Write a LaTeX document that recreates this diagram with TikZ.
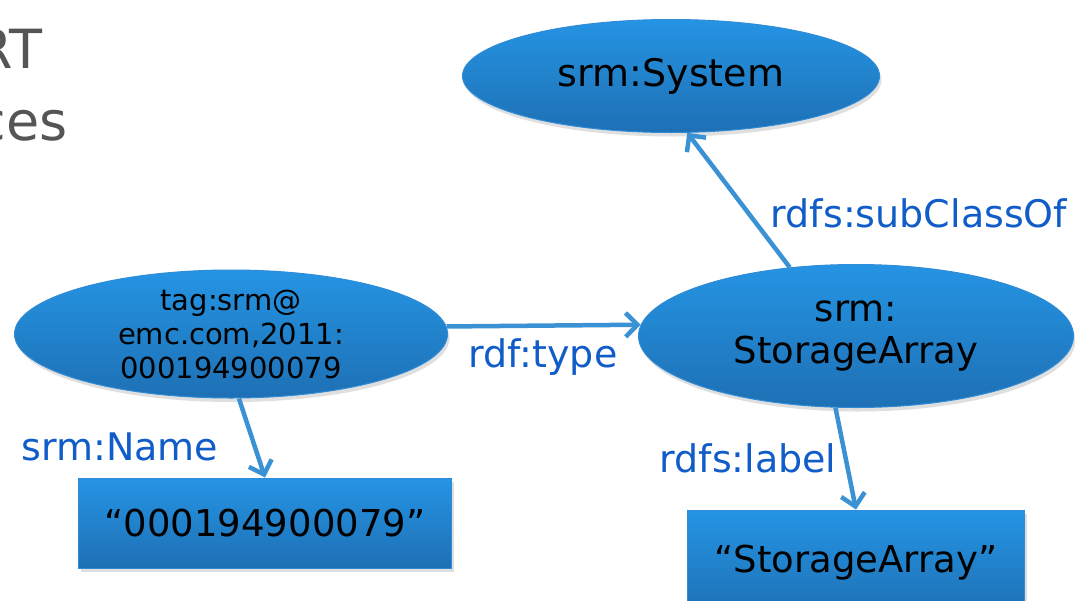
\documentclass[tikz,border=0pt]{standalone}
\usepackage{fontspec}
\setmainfont{DejaVu Sans}
\usetikzlibrary{shapes.geometric,arrows.meta,shadows}
\definecolor{ntop}{RGB}{37,148,228}
\definecolor{nbot}{RGB}{30,112,180}
\definecolor{nedge}{RGB}{48,140,215}
\definecolor{arrc}{RGB}{58,146,212}
\definecolor{lblc}{RGB}{16,92,200}
\definecolor{greyt}{RGB}{85,85,85}
\begin{document}
\begin{tikzpicture}[x=1pt,y=-1pt,
  nodefill/.style={top color=ntop, bottom color=nbot, draw=nedge, line width=1pt,
    drop shadow={opacity=0.25,shadow xshift=2pt,shadow yshift=-4pt}},
  ell/.style={nodefill, ellipse, inner sep=0pt, align=center},
  lit/.style={nodefill, rectangle, inner sep=0pt, align=center},
  arr/.style={draw=arrc, line width=4.5pt, -{Straight Barb[length=12pt,width=24pt]}},
  lbl/.style={text=lblc, font=\fontsize{38}{42}\selectfont}
]
\useasboundingbox (0,0) rectangle (1075,600);
\fill[white] (0,0) rectangle (1075,600);

\node[anchor=base east, text=greyt, font=\fontsize{54}{60}\selectfont] (t1) at (46,68) {RT};
\node[anchor=base east, text=greyt, font=\fontsize{54}{60}\selectfont] (t2) at (71,140) {ces};

\node[ell, minimum width=417pt, minimum height=113pt, font=\fontsize{38}{42}\selectfont] (sys) at (671,76) {srm:System};
\node[ell, minimum width=433pt, minimum height=128pt, font=\fontsize{29}{34}\selectfont] (tag) at (231,334) {tag:srm@\\emc.com,2011:\\000194900079};
\node[ell, minimum width=435pt, minimum height=143pt, font=\fontsize{37}{42}\selectfont] (sa) at (856,336) {srm:\\StorageArray};
\node[lit, minimum width=373pt, minimum height=90pt, font=\fontsize{37}{40}\selectfont] (name) at (265,523) {“000194900079”};
\node[lit, minimum width=337pt, minimum height=106pt, font=\fontsize{37}{40}\selectfont] (label) at (856,563) {“StorageArray”};

\draw[arr] (tag.2) -- (sa.177);
\draw[arr] (sa.134) -- (sys.286);
\draw[arr] (tag.277) -- (name.north);
\draw[arr] (sa.254) -- (label.north);

\node[lbl] (l1) at (543,357) {rdf:type};
\node[lbl] (l2) at (919,213) {rdfs:subClassOf};
\node[lbl] (l3) at (120,447) {srm:Name};
\node[lbl] (l4) at (748,458) {rdfs:label};
\end{tikzpicture}
\end{document}
